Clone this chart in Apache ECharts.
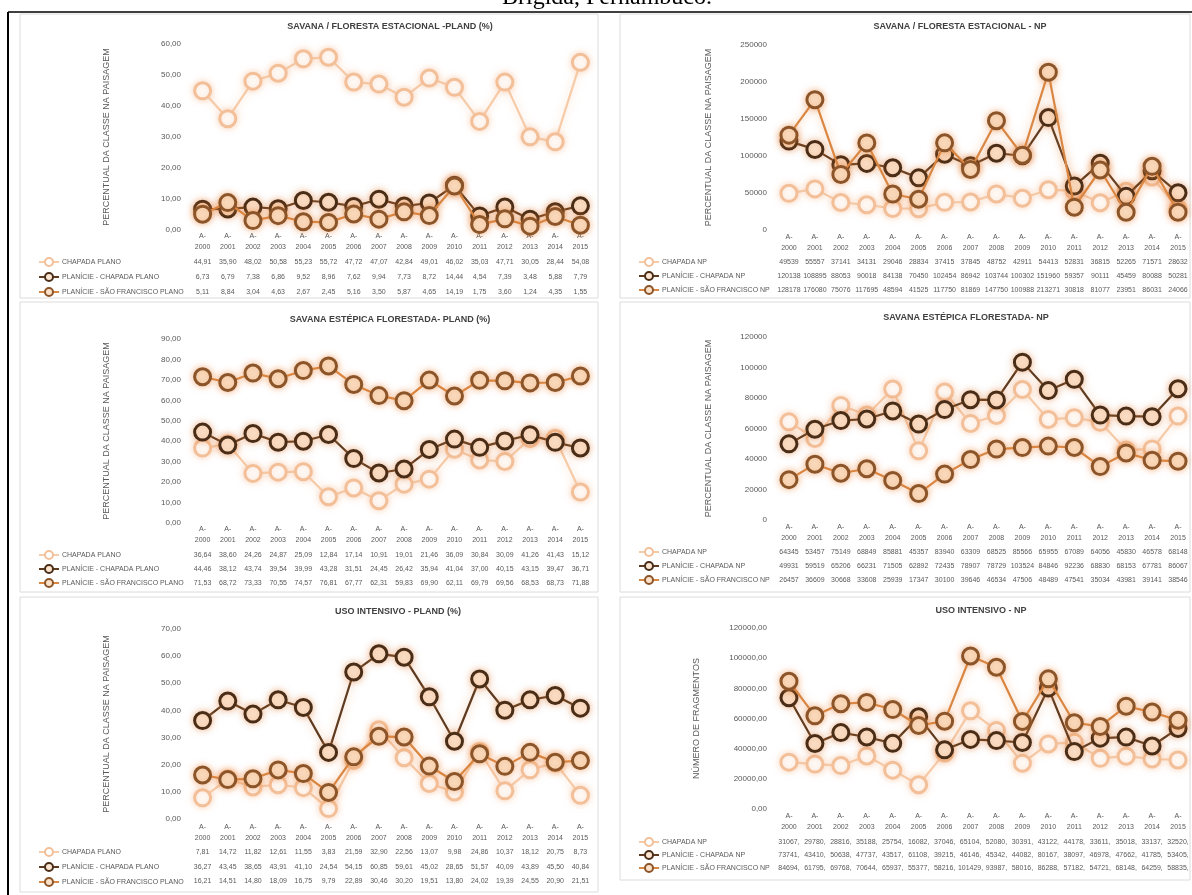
<!DOCTYPE html>
<html>
<head>
<meta charset="utf-8">
<script src="https://cdn.jsdelivr.net/npm/echarts@6/dist/echarts.min.js"></script>
<style>
  html, body { margin: 0; padding: 0; background: #ffffff; }
  #chart { width: 1192px; height: 895px; }
</style>
</head>
<body>
<div id="chart"></div>
<script>
// ---- categories ----
const years = ['2000', '2001', '2002', '2003', '2004', '2005', '2006', '2007',
               '2008', '2009', '2010', '2011', '2012', '2013', '2014', '2015'];

// ---- series names ----
const planoNames = ['CHAPADA PLANO', 'PLANÍCIE - CHAPADA PLANO', 'PLANÍCIE - SÃO FRANCISCO PLANO'];
const npNames = ['CHAPADA NP', 'PLANÍCIE - CHAPADA NP', 'PLANÍCIE - SÃO FRANCISCO NP'];

// ---- Savana / Floresta Estacional - PLAND (%) ----
const sfePlandChapada  = [44.91, 35.90, 48.02, 50.58, 55.23, 55.72, 47.72, 47.07, 42.84, 49.01, 46.02, 35.03, 47.71, 30.05, 28.44, 54.08];
const sfePlandPlanChap = [6.73, 6.79, 7.38, 6.86, 9.52, 8.96, 7.62, 9.94, 7.73, 8.72, 14.44, 4.54, 7.39, 3.48, 5.88, 7.79];
const sfePlandPlanSF   = [5.11, 8.84, 3.04, 4.63, 2.67, 2.45, 5.16, 3.50, 5.87, 4.65, 14.19, 1.75, 3.60, 1.24, 4.35, 1.55];

// ---- Savana Estépica Florestada - PLAND (%) ----
const sefPlandChapada  = [36.64, 38.60, 24.26, 24.87, 25.09, 12.84, 17.14, 10.91, 19.01, 21.46, 36.09, 30.84, 30.09, 41.26, 41.43, 15.12];
const sefPlandPlanChap = [44.46, 38.12, 43.74, 39.54, 39.99, 43.28, 31.51, 24.45, 26.42, 35.94, 41.04, 37.00, 40.15, 43.15, 39.47, 36.71];
const sefPlandPlanSF   = [71.53, 68.72, 73.33, 70.55, 74.57, 76.81, 67.77, 62.31, 59.83, 69.90, 62.11, 69.79, 69.56, 68.53, 68.73, 71.88];

// ---- Uso Intensivo - PLAND (%) ----
const uiPlandChapada  = [7.81, 14.72, 11.82, 12.61, 11.55, 3.83, 21.59, 32.90, 22.56, 13.07, 9.98, 24.86, 10.37, 18.12, 20.75, 8.73];
const uiPlandPlanChap = [36.27, 43.45, 38.65, 43.91, 41.10, 24.54, 54.15, 60.85, 59.61, 45.02, 28.65, 51.57, 40.09, 43.89, 45.50, 40.84];
const uiPlandPlanSF   = [16.21, 14.51, 14.80, 18.09, 16.75, 9.79, 22.89, 30.46, 30.20, 19.51, 13.80, 24.02, 19.39, 24.55, 20.90, 21.51];

// ---- Savana / Floresta Estacional - NP ----
const sfeNpChapada  = [49539, 55557, 37141, 34131, 29046, 28834, 37415, 37845, 48752, 42911, 54413, 52831, 36815, 52265, 71571, 28632];
const sfeNpPlanChap = [120138, 108895, 88053, 90018, 84138, 70450, 102454, 86942, 103744, 100302, 151960, 59357, 90111, 45459, 80088, 50281];
const sfeNpPlanSF   = [128178, 176080, 75076, 117695, 48594, 41525, 117750, 81869, 147750, 100988, 213271, 30818, 81077, 23951, 86031, 24066];

// ---- Savana Estépica Florestada - NP ----
const sefNpChapada  = [64345, 53457, 75149, 68849, 85881, 45357, 83940, 63309, 68525, 85566, 65955, 67089, 64056, 45830, 46578, 68148];
const sefNpPlanChap = [49931, 59519, 65206, 66231, 71505, 62892, 72435, 78907, 78729, 103524, 84846, 92236, 68830, 68153, 67781, 86067];
const sefNpPlanSF   = [26457, 36609, 30668, 33608, 25939, 17347, 30100, 39646, 46534, 47506, 48489, 47541, 35034, 43981, 39141, 38546];

// ---- Uso Intensivo - NP ----
const uiNpChapada  = [31067, 29780, 28816, 35188, 25754, 16082, 37046, 65104, 52080, 30391, 43122, 44178, 33611, 35018, 33137, 32520];
const uiNpPlanChap = [73741, 43410, 50638, 47737, 43517, 61108, 39215, 46146, 45342, 44082, 80167, 38097, 46978, 47662, 41785, 53405];
const uiNpPlanSF   = [84694, 61795, 69768, 70644, 65937, 55377, 58216, 101429, 93987, 58016, 86288, 57182, 54721, 68148, 64259, 58835];

// ---- y-axis ranges ----
const yMax = [60, 90, 70, 250000, 120000, 120000];
const yStep = [10, 10, 10, 50000, 20000, 20000];

// ---- number formats (Portuguese decimal comma) ----
const dec2 = v => Number(v).toFixed(2).replace('.', ',');
const intTxt = v => String(Math.round(v));
const clipped = v => Math.round(v) + ',';

const panels = [
  { title: 'SAVANA / FLORESTA ESTACIONAL -PLAND (%)', names: planoNames,
    data: [sfePlandChapada, sfePlandPlanChap, sfePlandPlanSF],
    yName: 'PERCENTUAL DA CLASSE NA PAISAGEM', yFmt: dec2, tFmt: dec2 },
  { title: 'SAVANA ESTÉPICA FLORESTADA- PLAND (%)', names: planoNames,
    data: [sefPlandChapada, sefPlandPlanChap, sefPlandPlanSF],
    yName: 'PERCENTUAL DA CLASSE NA PAISAGEM', yFmt: dec2, tFmt: dec2 },
  { title: 'USO INTENSIVO - PLAND (%)', names: planoNames,
    data: [uiPlandChapada, uiPlandPlanChap, uiPlandPlanSF],
    yName: 'PERCENTUAL DA CLASSE NA PAISAGEM', yFmt: dec2, tFmt: dec2 },
  { title: 'SAVANA / FLORESTA ESTACIONAL - NP', names: npNames,
    data: [sfeNpChapada, sfeNpPlanChap, sfeNpPlanSF],
    yName: 'PERCENTUAL DA CLASSE NA PAISAGEM', yFmt: intTxt, tFmt: intTxt },
  { title: 'SAVANA ESTÉPICA FLORESTADA- NP', names: npNames,
    data: [sefNpChapada, sefNpPlanChap, sefNpPlanSF],
    yName: 'PERCENTUAL DA CLASSE NA PAISAGEM', yFmt: intTxt, tFmt: intTxt },
  { title: 'USO INTENSIVO - NP', names: npNames,
    data: [uiNpChapada, uiNpPlanChap, uiNpPlanSF],
    yName: 'NÚMERO DE FRAGMENTOS', yFmt: dec2, tFmt: clipped }
];

// ---- page layout (pixels) ----
const layout = [
  { box: [20, 14, 578, 284], gl: 190, gw: 403, top: 44,  h: 186, aY: 236, rows: [262, 277, 292], titleX: 390, titleY: 26, legX: 38,  nameGap: 79 },
  { box: [20, 302, 578, 290], gl: 190, gw: 403, top: 339, h: 184, aY: 529, rows: [555, 569, 583], titleX: 390, titleY: 319, legX: 38,  nameGap: 79 },
  { box: [20, 597, 578, 295], gl: 190, gw: 403, top: 629, h: 190, aY: 827, rows: [852, 867, 881], titleX: 398, titleY: 611, legX: 38,  nameGap: 79 },
  { box: [620, 14, 570, 284], gl: 776, gw: 415, top: 45,  h: 185, aY: 237, rows: [262, 276, 290], titleX: 960, titleY: 26, legX: 638, nameGap: 63 },
  { box: [620, 302, 570, 290], gl: 776, gw: 415, top: 337, h: 183, aY: 527, rows: [552, 566, 580], titleX: 966, titleY: 317, legX: 638, nameGap: 63 },
  { box: [620, 597, 570, 283], gl: 776, gw: 415, top: 628, h: 181, aY: 816, rows: [842, 855, 868], titleX: 981, titleY: 610, legX: 638, nameGap: 75 }
];

// ---- series look: light Chapada, dark Planície-Chapada, orange Planície-São Francisco ----
const looks = [
  { line: '#f6cba8', fill: '#ffffff', border: '#f3bf98', glow: 'rgba(246,190,150,0.6)' },
  { line: '#5e3b20', fill: '#fce6d2', border: '#4a2d17', glow: 'rgba(230,130,60,0.5)' },
  { line: '#d98743', fill: '#fbe2c9', border: '#8c5529', glow: 'rgba(235,135,60,0.55)' }
];

const textGray = '#595959';
const grid = [], xAxis = [], yAxis = [], series = [], legend = [], title = [], graphic = [];

panels.forEach((p, i) => {
  const L = layout[i];
  const bottom = L.top + L.h;
  grid.push({ left: L.gl, top: L.top, width: L.gw, height: L.h });

  // year labels
  xAxis.push({
    type: 'category', gridIndex: i, data: years, boundaryGap: true,
    axisLine: { show: false }, axisTick: { show: false },
    axisLabel: {
      interval: 0, margin: L.aY - bottom - 5.5, lineHeight: 11,
      fontSize: 7, color: textGray, fontFamily: 'Liberation Sans',
      formatter: v => 'A-\n' + v
    }
  });
  // data table rows, one category axis per series
  p.data.forEach((arr, k) => {
    xAxis.push({
      type: 'category', gridIndex: i, data: years, position: 'bottom',
      offset: L.rows[k] - bottom - 5,
      axisLine: { show: false }, axisTick: { show: false },
      axisLabel: {
        interval: 0, margin: 0, lineHeight: 10, fontSize: 7, color: textGray,
        fontFamily: 'Liberation Sans',
        formatter: (v, idx) => p.tFmt(arr[idx])
      }
    });
  });

  yAxis.push({
    type: 'value', gridIndex: i, min: 0, max: yMax[i], interval: yStep[i],
    splitLine: { show: false }, axisLine: { show: false }, axisTick: { show: false },
    axisLabel: { fontSize: 8, color: textGray, margin: 9, fontFamily: 'Liberation Sans', formatter: p.yFmt },
    name: p.yName, nameLocation: 'middle', nameGap: L.nameGap,
    nameTextStyle: { fontSize: 9, color: textGray, fontFamily: 'Liberation Sans' }
  });

  p.data.forEach((arr, k) => {
    const lk = looks[k];
    series.push({
      type: 'line', name: p.names[k], data: arr,
      xAxisIndex: i * 4, yAxisIndex: i,
      symbol: 'circle', symbolSize: 16, z: 2 + k,
      lineStyle: { color: lk.line, width: 2.2, shadowBlur: 9, shadowColor: lk.glow },
      itemStyle: { color: lk.fill, borderColor: lk.border, borderWidth: 3, shadowBlur: 7, shadowColor: lk.glow },
      emphasis: { disabled: true },
      animation: false
    });
  });

  legend.push({
    orient: 'vertical', left: L.legX, top: L.rows[0] - 5, padding: 0,
    height: 60, itemGap: L.rows[1] - L.rows[0] - 10, itemWidth: 20, itemHeight: 10,
    selectedMode: false, data: p.names,
    textStyle: { fontSize: 7, lineHeight: 10, color: textGray, fontFamily: 'Liberation Sans', padding: [0, 0, 0, -2] }
  });

  title.push({
    text: p.title, left: L.titleX, top: L.titleY - 4, textAlign: 'center', padding: 0,
    textStyle: { fontSize: 9, fontWeight: 'bold', color: '#404040', fontFamily: 'Liberation Sans' }
  });

  graphic.push({
    type: 'rect', z: -10, silent: true,
    shape: { x: L.box[0], y: L.box[1], width: L.box[2], height: L.box[3] },
    style: { fill: '#ffffff', stroke: '#dcdcdc', lineWidth: 1 }
  });
});

// page frame and running caption above the figure
graphic.push(
  { type: 'line', z: 10, silent: true, shape: { x1: 8, y1: 12, x2: 1192, y2: 12 }, style: { stroke: '#000', lineWidth: 1.5 } },
  { type: 'line', z: 10, silent: true, shape: { x1: 8, y1: 12, x2: 8, y2: 895 }, style: { stroke: '#000', lineWidth: 2 } },
  { type: 'text', z: 10, silent: true, x: 607, y: 10,
    style: { text: 'Brígida, Pernambuco.', fill: '#000', font: '24px "Liberation Serif"', textAlign: 'center', textVerticalAlign: 'bottom' } }
);

const chart = echarts.init(document.getElementById('chart'), null, { renderer: 'canvas' });
chart.setOption({
  backgroundColor: '#ffffff',
  animation: false,
  title, grid, xAxis, yAxis, legend, series, graphic
});
</script>
</body>
</html>
